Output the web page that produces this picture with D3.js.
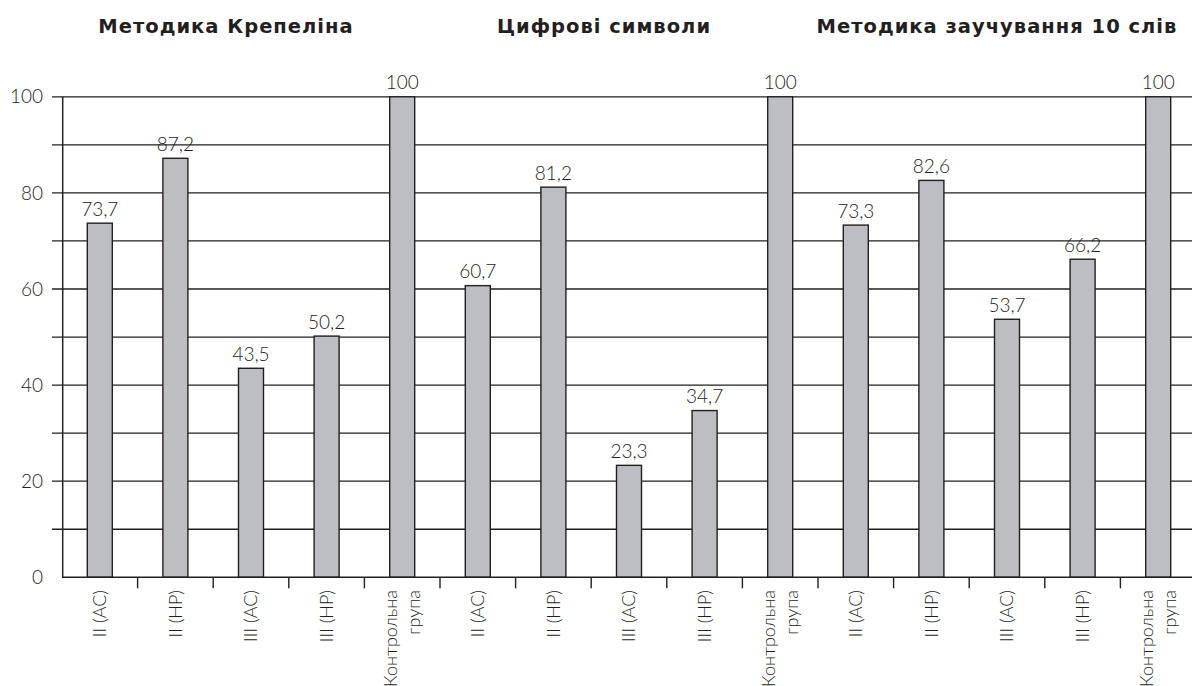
<!DOCTYPE html>
<html><head><meta charset="utf-8">
<script src="https://cdn.jsdelivr.net/npm/d3@7"></script>
<style>body{margin:0;background:#fff}svg{display:block}</style>
</head><body>
<svg id="c" width="1192" height="686"></svg>
<script>
const titles = ["Методика Крепеліна", "Цифрові символи", "Методика заучування 10 слів"];
const categories = ["II (AC)", "II (HP)", "III (AC)", "III (HP)", "Контрольна|група",
                    "II (AC)", "II (HP)", "III (AC)", "III (HP)", "Контрольна|група",
                    "II (AC)", "II (HP)", "III (AC)", "III (HP)", "Контрольна|група"];
const values = [73.7, 87.2, 43.5, 50.2, 100,
                60.7, 81.2, 23.3, 34.7, 100,
                73.3, 82.6, 53.7, 66.2, 100];
const yTickLabels = [0, 20, 40, 60, 80, 100];
const gridValues = [10, 20, 30, 40, 50, 60, 70, 80, 90, 100];

const svg = d3.select("#c");
const ink = "#231f20";
const font = "Lato, 'Open Sans', sans-serif";
const titleFont = "'DejaVu Sans', sans-serif";
const left = 62, bandW = 75.6;
const idx = d3.range(categories.length);
const x = d3.scaleBand().domain(idx).range([left, left + bandW * categories.length]).paddingInner(0).paddingOuter(0);
const y = d3.scaleLinear().domain([0, 100]).range([577.3, 96.8]);

// gridlines
svg.append("g").selectAll("line").data(gridValues).join("line")
  .attr("x1", 52).attr("x2", 1192)
  .attr("y1", d => y(d)).attr("y2", d => y(d))
  .attr("stroke", ink).attr("stroke-width", 1.3);

// y labels
svg.append("g").selectAll("text").data(yTickLabels).join("text")
  .attr("x", 43).attr("y", d => y(d)).attr("dy", "0.35em")
  .attr("text-anchor", "end").attr("font-family", font).attr("font-weight", 300)
  .attr("font-size", 19).attr("fill", ink).text(d => d);

// bars
const bw = 25;
svg.append("g").selectAll("rect").data(values).join("rect")
  .attr("x", (d, i) => x(i) + x.bandwidth() / 2 - bw / 2)
  .attr("width", bw)
  .attr("y", d => y(d)).attr("height", d => y(0) - y(d))
  .attr("fill", "#bdbec2").attr("stroke", ink).attr("stroke-width", 1.4);

// value labels
svg.append("g").selectAll("text").data(values).join("text")
  .attr("x", (d, i) => x(i) + x.bandwidth() / 2)
  .attr("y", d => y(d) - 7.5)
  .attr("text-anchor", "middle").attr("font-family", font).attr("font-weight", 300)
  .attr("font-size", 19).attr("fill", ink)
  .text(d => String(d).replace(".", ","));

// axes
svg.append("line").attr("x1", left + 0.7).attr("x2", left + 0.7).attr("y1", y(100)).attr("y2", y(0))
  .attr("stroke", ink).attr("stroke-width", 1.5);
svg.append("line").attr("x1", left).attr("x2", 1192).attr("y1", y(0)).attr("y2", y(0))
  .attr("stroke", ink).attr("stroke-width", 1.5);
svg.append("g").selectAll("line").data(idx.slice(1)).join("line")
  .attr("x1", d => x(d)).attr("x2", d => x(d))
  .attr("y1", y(0)).attr("y2", y(0) + 11)
  .attr("stroke", ink).attr("stroke-width", 1.4);

// x labels (rotated)
const xl = svg.append("g").selectAll("g").data(categories).join("g")
  .attr("transform", (d, i) => `translate(${x(i) + x.bandwidth() / 2},590) rotate(-90)`);
xl.each(function (d) {
  const lines = d.split("|");
  const g = d3.select(this);
  lines.forEach((t, k) => {
    const off = (k - (lines.length - 1) / 2) * 24;
    g.append("text").attr("x", 0).attr("y", off).attr("dy", "0.35em")
      .attr("text-anchor", "end").attr("font-family", font).attr("font-weight", 300)
      .attr("font-size", 18).attr("fill", ink).text(t);
  });
});

// titles
const titleX = [226, 604, 997];
svg.append("g").selectAll("text").data(titles).join("text")
  .attr("x", (d, i) => titleX[i]).attr("y", 33)
  .attr("text-anchor", "middle").attr("font-family", titleFont).attr("font-weight", "bold")
  .attr("font-size", 19.5).attr("letter-spacing", 1).attr("fill", ink).text(d => d);
</script>
</body></html>
